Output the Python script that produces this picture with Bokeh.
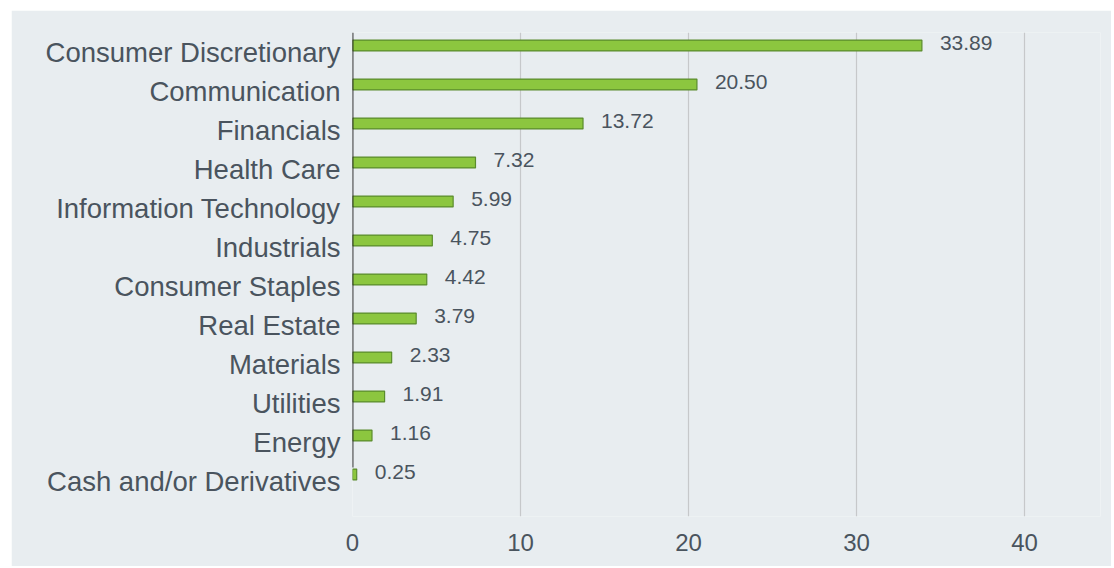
from bokeh.plotting import figure
from bokeh.models import ColumnDataSource, FixedTicker, Range1d
from bokeh.core.properties import value
from bokeh.embed import file_html
from bokeh.resources import INLINE

categories = ["Consumer Discretionary", "Communication", "Financials", "Health Care",
              "Information Technology", "Industrials", "Consumer Staples", "Real Estate",
              "Materials", "Utilities", "Energy", "Cash and/or Derivatives"]
weights = [33.89, 20.50, 13.72, 7.32, 5.99, 4.75, 4.42, 3.79, 2.33, 1.91, 1.16, 0.25]
weight_labels = ["33.89", "20.50", "13.72", "7.32", "5.99", "4.75", "4.42", "3.79",
                 "2.33", "1.91", "1.16", "0.25"]
x_ticks = [0, 10, 20, 30, 40]

n = len(categories)
pos = [n - 1 - i for i in range(n)]

BG = "#e8edf0"
TXT = "#4a545e"
FONT = "Liberation Sans"

src = ColumnDataSource(dict(cat=categories, w=weights, lab=weight_labels, y=pos))

p = figure(width=1100, height=556, output_backend="svg", toolbar_location=None,
           x_range=Range1d(0, 44.52), y_range=Range1d(-1.077, 11.333),
           min_border_left=341, min_border_top=22, min_border_bottom=50, min_border_right=11,
           background_fill_color=BG, border_fill_color=BG, outline_line_color=None,
           margin=(10, 0, 0, 11))

p.hbar(y="y", left=0, right="w", height=0.28, source=src,
       fill_color="#8cc63f", line_color="#5a8c2c", line_width=1.2)

p.segment(x0=[0], y0=[11.333], x1=[0], y1=[0.18], line_color="#1e1e1e", line_width=1.8)

p.text(x="w", y="y", text="lab", source=src, x_offset=18, y_offset=-2.5,
       text_baseline="middle", text_align="left", text_font_size="21px",
       text_color=TXT, text_font=value(FONT))

# x axis
p.xaxis.ticker = FixedTicker(ticks=x_ticks)
p.xaxis.axis_line_color = None
p.xaxis.major_tick_line_color = None
p.xaxis.minor_tick_line_color = None
p.xaxis.major_label_text_font_size = "24px"
p.xaxis.major_label_text_color = TXT
p.xaxis.major_label_text_font = FONT
p.xaxis.major_label_standoff = 11

# y axis with labels slightly below bar centres
off = 0.1875
ticks = [y - off for y in pos]
p.yaxis.ticker = FixedTicker(ticks=ticks)
p.yaxis.major_label_overrides = {t: c for t, c in zip(ticks, categories)}
p.yaxis.axis_line_color = None
p.yaxis.major_tick_line_color = None
p.yaxis.minor_tick_line_color = None
p.yaxis.major_label_text_font_size = "27.5px"
p.yaxis.major_label_text_color = TXT
p.yaxis.major_label_text_font = FONT
p.yaxis.major_label_standoff = 6

p.xgrid.ticker = FixedTicker(ticks=x_ticks)
p.xgrid.grid_line_color = "#c6c8ca"
p.xgrid.grid_line_width = 1.2
p.ygrid.grid_line_color = None

open("out.html", "w").write(file_html(p, INLINE))
